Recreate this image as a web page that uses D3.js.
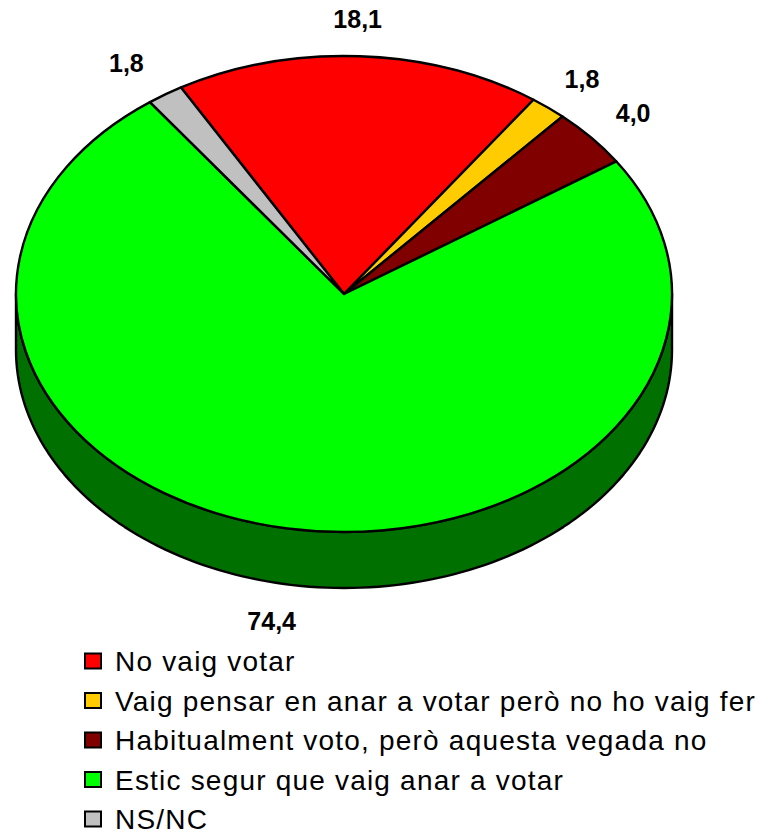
<!DOCTYPE html>
<html>
<head>
<meta charset="utf-8">
<script src="https://cdn.jsdelivr.net/npm/d3@7"></script>
<style>
  html, body { margin: 0; padding: 0; background: #fff; }
  svg { display: block; }
</style>
</head>
<body>
<svg id="chart" width="773" height="834"></svg>
<script>
// Survey answers and their shares (%)
const categories = [
  "No vaig votar",
  "Vaig pensar en anar a votar però no ho vaig fer",
  "Habitualment voto, però aquesta vegada no",
  "Estic segur que vaig anar a votar",
  "NS/NC"
];
const values = [18.1, 1.8, 4.0, 74.4, 1.8];
const colors = ["#FF0000", "#FFCC00", "#800000", "#00FF00", "#C0C0C0"];

const svg = d3.select("#chart");
const font = "'Liberation Sans', Arial, Helvetica, sans-serif";

// Pie geometry (tilted disc)
const cx = 344, cy = 294;
const rx = 328, ry = 238;
const depth = 56;
const startAngle = -29.8 * Math.PI / 180;

const pie = d3.pie().sort(null).value(d => d.value)
  .startAngle(startAngle).endAngle(startAngle + 2 * Math.PI);
const data = categories.map((c, i) => ({ name: c, value: values[i], color: colors[i] }));
const arcs = pie(data);

const shade = c => { const r = d3.rgb(c); return d3.rgb(r.r * 0.44, r.g * 0.44, r.b * 0.44); };

// Point on the rim ellipse at parametric angle t (0 = top, clockwise)
const rim = (t, dy = 0) => [cx + rx * Math.sin(t), cy - ry * Math.cos(t) + dy];
const line = d3.line();

// Visible front wall: angles between 90° and 270° (mod 360°)
const wallG = svg.append("g");
arcs.forEach(a => {
  for (let k = -1; k <= 1; k++) {
    const lo = Math.max(a.startAngle, Math.PI / 2 + 2 * Math.PI * k);
    const hi = Math.min(a.endAngle, 3 * Math.PI / 2 + 2 * Math.PI * k);
    if (hi <= lo) continue;
    const n = 120;
    const ts = d3.range(n + 1).map(i => lo + (hi - lo) * i / n);
    const pts = ts.map(t => rim(t)).concat(ts.slice().reverse().map(t => rim(t, depth)));
    wallG.append("path")
      .attr("d", line(pts) + "Z")
      .attr("fill", shade(a.data.color))
      .attr("stroke", "#000")
      .attr("stroke-width", 2.4)
      .attr("stroke-linejoin", "round");
  }
});

// Top face: circular arcs squashed into the ellipse
const arcGen = d3.arc().innerRadius(0).outerRadius(rx);
svg.append("g")
  .attr("transform", `translate(${cx},${cy}) scale(1,${ry / rx})`)
  .selectAll("path")
  .data(arcs)
  .join("path")
  .attr("d", arcGen)
  .attr("fill", d => d.data.color)
  .attr("stroke", "#000")
  .attr("stroke-width", 2.4)
  .attr("stroke-linejoin", "round")
  .attr("vector-effect", "non-scaling-stroke");

// Value labels around the pie
const fmt = v => d3.format(".1f")(v).replace(".", ",");
const lrx = 390, lry = 275;
svg.append("g")
  .selectAll("text")
  .data(arcs)
  .join("text")
  .attr("x", d => cx - 5 + lrx * Math.sin((d.startAngle + d.endAngle) / 2))
  .attr("y", d => {
    const m = (d.startAngle + d.endAngle) / 2;
    return cy - lry * Math.cos(m) + (Math.cos(m) < 0 ? depth : 0);
  })
  .attr("text-anchor", "middle")
  .attr("dominant-baseline", "central")
  .attr("font-family", font)
  .attr("font-weight", "bold")
  .attr("font-size", 25)
  .attr("fill", "#000")
  .text(d => fmt(d.data.value));

// Legend
const legend = svg.append("g").attr("transform", "translate(85,661)");
const rows = legend.selectAll("g")
  .data(data)
  .join("g")
  .attr("transform", (d, i) => `translate(0,${i * 39.5})`);
rows.append("rect")
  .attr("x", 0).attr("y", -7.5)
  .attr("width", 16).attr("height", 15)
  .attr("fill", d => d.color)
  .attr("stroke", "#000")
  .attr("stroke-width", 2);
rows.append("text")
  .attr("x", 30).attr("y", 10)
  .attr("font-family", font)
  .attr("font-size", 28)
  .attr("letter-spacing", 1.2)
  .attr("fill", "#000")
  .text(d => d.name);
</script>
</body>
</html>
